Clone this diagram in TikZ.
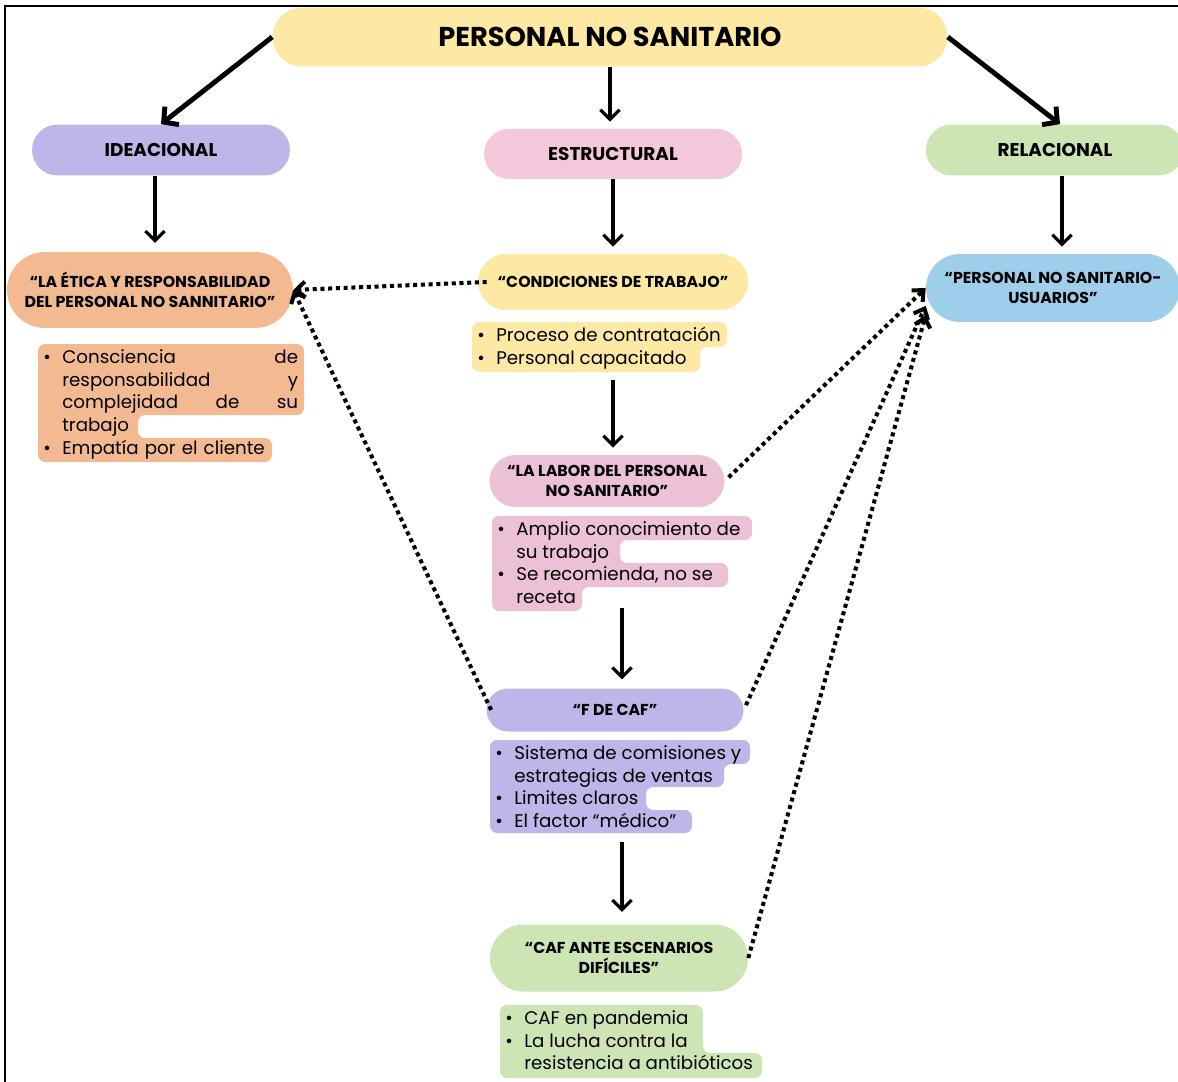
\documentclass[tikz,border=0pt]{standalone}
\usepackage{fontspec}
\usepackage{tikz}
\usepackage{xcolor}
\setmainfont{Poppins}
\newfontfamily\headfont{Poppins}
\usetikzlibrary{arrows.meta}

\definecolor{amarillo}{HTML}{FDE9A4}
\definecolor{lavanda}{HTML}{BDB6E9}
\definecolor{rosa}{HTML}{F4C8DB}
\definecolor{rosaLabor}{HTML}{ECC0D5}
\definecolor{verde}{HTML}{CDE4B4}
\definecolor{naranja}{HTML}{F3BA91}
\definecolor{celeste}{HTML}{9ECEEA}

\newcommand\bul{\makebox[10.8pt][l]{\textbullet}}
\newcommand\sng{\hspace*{10.8pt}}

\begin{document}
\begin{tikzpicture}[x=0.02cm,y=-0.02cm,
    pill/.style 2 args={fill=#1, minimum height=#2, rounded corners=#2/2,
        inner sep=0pt, align=center, font=\headfont\bfseries\fontsize{9}{11.5}\selectfont},
    listText/.style={anchor=north west, inner sep=0pt, align=left,
        font=\fontsize{10.4}{13}\selectfont},
    bigArrow/.style={line width=2.8pt, -{Straight Barb[length=6pt,width=13pt]}},
    arrow/.style={line width=1.8pt, -{Straight Barb[length=5.5pt,width=11pt]}},
    dotArrow/.style={line width=2.3pt, dash pattern=on 2.3pt off 2.1pt,
        -{Straight Barb[length=5pt,width=9pt]}}]

    \useasboundingbox (0,0) rectangle (1178,1082);
    \draw[line width=1.2pt] (5,1082) -- (5,6) -- (1178,6);

    % cabecera y tres dimensiones
    \node[pill={amarillo}{1.18cm}, minimum width=13.5cm,
          font=\headfont\bfseries\fontsize{15.5}{17}\selectfont] (title) at (610,37) {PERSONAL NO SANITARIO};
    \node[pill={lavanda}{1.02cm}, minimum width=5.16cm,
          font=\headfont\bfseries\fontsize{10.5}{12}\selectfont] (ideacional) at (161,150) {IDEACIONAL};
    \node[pill={rosa}{1.0cm}, minimum width=5.16cm,
          font=\headfont\bfseries\fontsize{10.5}{12}\selectfont] (estructural) at (613,154) {ESTRUCTURAL};
    \node[pill={verde}{1.02cm}, minimum width=5.16cm,
          font=\headfont\bfseries\fontsize{10.5}{12}\selectfont] (relacional) at (1055,150) {RELACIONAL};

    \node[pill={naranja}{1.52cm}, minimum width=5.72cm] (etica) at (150,290)
        {“LA ÉTICA Y RESPONSABILIDAD\\DEL PERSONAL NO SANNITARIO”};
    \node[pill={amarillo}{1.12cm}, minimum width=5.4cm] (condiciones) at (613,282)
        {“CONDICIONES DE TRABAJO”};
    \node[pill={celeste}{1.36cm}, minimum width=5.08cm] (usuarios) at (1053,288)
        {“PERSONAL NO SANITARIO-\\USUARIOS”};
    \node[pill={rosaLabor}{1.04cm}, minimum width=4.7cm] (labor) at (607,481)
        {“LA LABOR DEL PERSONAL\\NO SANITARIO”};
    \node[pill={lavanda}{0.86cm}, minimum width=5.14cm] (fCaf) at (615,710)
        {“F DE CAF”};
    \node[pill={verde}{1.34cm}, minimum width=5.16cm] (cafAnte) at (619,958)
        {“CAF ANTE ESCENARIOS\\DIFÍCILES”};

    % listas resaltadas
    \fill[naranja, rounded corners=4pt] (38,344) -| (304,415) -| (138,438) -| (272,462) -- (38,462) -- cycle;
    \node[listText, text width=145pt] (eticaList) at (43,349)
        {\bul Consciencia\hfill de\\
         \sng responsabilidad\hfill y\\
         \sng complejidad\hfill de\hfill su\\
         \sng trabajo\\
         \bul Empatía por el cliente};

    \fill[amarillo, rounded corners=4pt] (472,322) -| (727,347) -| (700,372) -- (472,372) -- cycle;
    \node[listText] (condList) at (477,327)
        {\bul Proceso de contratación\\
         \bul Personal capacitado};

    \fill[rosaLabor, rounded corners=4pt] (492,516) -| (752,540) -| (620,563) -| (728,587) -| (582,611) -- (492,611) -- cycle;
    \node[listText] (laborList) at (497,521)
        {\bul Amplio conocimiento de\\
         \sng su trabajo\\
         \bul Se recomienda, no se\\
         \sng receta};

    \fill[lavanda, rounded corners=4pt] (490,740) -| (750,764) -| (724,787) -| (646,810) -| (692,833) -- (490,833) -- cycle;
    \node[listText] (fCafList) at (495,745)
        {\bul Sistema de comisiones y\\
         \sng estrategias de ventas\\
         \bul Limites claros\\
         \bul El factor “médico”};

    \fill[verde, rounded corners=4pt] (500,1005) -| (703,1053) -| (762,1078) -- (500,1078) -- cycle;
    \node[listText] (cafList) at (505,1010)
        {\bul CAF en pandemia\\
         \bul La lucha contra la\\
         \sng resistencia a antibióticos};

    % flechas
    \draw[bigArrow] (title.west) -- (ideacional.north);
    \draw[bigArrow] (title.east) -- ([xshift=0.1cm]relacional.north);
    \draw[arrow, shorten >=4pt] (title.south) -- (title.south |- estructural.north);

    \draw[arrow, shorten >=5pt] ([xshift=-0.12cm]ideacional.south) -- ([xshift=-0.12cm]ideacional.south |- etica.north);
    \draw[arrow, shorten >=4pt] (estructural.south) -- (estructural.south |- condiciones.north);
    \draw[arrow, shorten >=4pt] ([xshift=0.14cm]relacional.south) -- ([xshift=0.14cm]relacional.south |- usuarios.north);
    \draw[arrow, shorten <=6pt, shorten >=4pt] (condiciones.center |- condList.south) -- (condiciones.center |- labor.north);
    \draw[arrow, shorten <=2pt, shorten >=5pt] ([xshift=0.06cm]cafAnte.center |- laborList.south) -- ([xshift=0.06cm]cafAnte.center |- fCaf.north);
    \draw[arrow, shorten <=8pt, shorten >=7pt] ([xshift=0.06cm]cafAnte.center |- fCafList.south) -- ([xshift=0.06cm]cafAnte.north);

    % relaciones punteadas
    \draw[dotArrow] ([xshift=0.18cm]condiciones.west) -- (etica.east);
    \draw[dotArrow] ([xshift=0.1cm]fCaf.west) -- (etica.east);
    \draw[dotArrow, shorten <=3pt] (labor.east) -- (usuarios.west);
    \draw[dotArrow, shorten <=3pt] (fCaf.east) -- (usuarios.188);
    \draw[dotArrow] (cafAnte.east) -- (usuarios.192);
\end{tikzpicture}
\end{document}
